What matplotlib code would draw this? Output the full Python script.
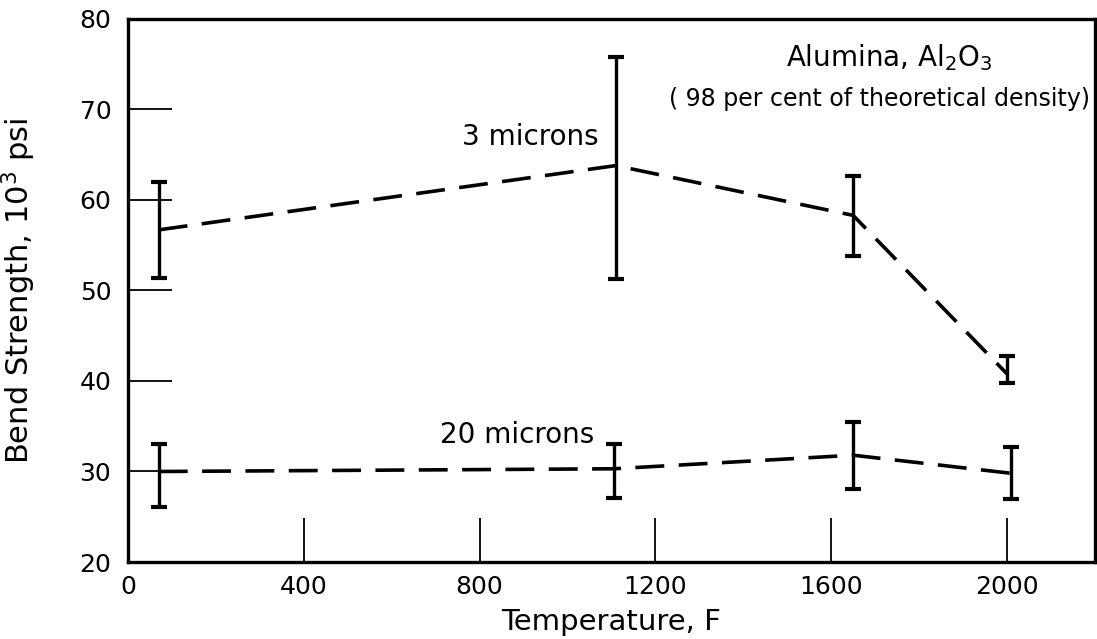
import matplotlib
matplotlib.use("Agg")
import matplotlib.pyplot as plt

# data
temp_3um = [70, 1110, 1650, 2000]
mean_3um = [56.7, 63.8, 58.3, 40.8]
lo_3um = [51.4, 51.3, 53.8, 39.8]
hi_3um = [62.0, 75.8, 62.7, 42.8]

temp_20um = [70, 1105, 1650, 2010]
mean_20um = [30.0, 30.3, 31.8, 29.8]
lo_20um = [26.1, 27.1, 28.1, 27.0]
hi_20um = [33.0, 33.0, 35.5, 32.7]

x_ticks = [0, 400, 800, 1200, 1600, 2000]
y_ticks = [20, 30, 40, 50, 60, 70, 80]

plt.rcParams['font.family'] = ['DejaVu Sans']

fig = plt.figure(figsize=(10.97, 6.39), dpi=100)
ax = fig.add_axes([0.1167, 0.1205, 0.998 - 0.1167, 0.9703 - 0.1205])

for t, m, lo, hi in [(temp_3um, mean_3um, lo_3um, hi_3um),
                     (temp_20um, mean_20um, lo_20um, hi_20um)]:
    ax.plot(t, m, color='black', lw=2.6, dashes=(8, 4), solid_capstyle='butt')
    yerr = [[a - b for a, b in zip(m, lo)], [b - a for a, b in zip(m, hi)]]
    ax.errorbar(t, m, yerr=yerr, fmt='none', ecolor='black', elinewidth=2.4,
                capsize=6, capthick=3)

ax.set_xlim(0, 2200)
ax.set_ylim(20, 80)
ax.set_xticks(x_ticks)
ax.set_yticks(y_ticks)
ax.tick_params(direction='in', length=32, width=1.3, labelsize=18,
               top=False, right=False)
ax.tick_params(axis='x', pad=9)
ax.tick_params(axis='y', pad=12)
for s in ax.spines.values():
    s.set_linewidth(2.4)

ax.set_xlabel('Temperature, F', fontsize=21, va='top')
ax.xaxis.set_label_coords(0.5, -0.085)
ax.set_ylabel('Bend Strength, 10$^3$ psi', fontsize=22)
ax.yaxis.set_label_coords(-0.093, 0.5)

ax.text(1498, 75.7, 'Alumina, Al$_2$O$_3$', fontsize=20, ha='left', va='center')
ax.text(2188, 71.2, '( 98 per cent of theoretical density)', fontsize=17,
        ha='right', va='center')
ax.text(915, 67.0, '3 microns', fontsize=20, ha='center', va='center')
ax.text(885, 34.0, '20 microns', fontsize=20, ha='center', va='center')

fig.savefig('out.png', dpi=100)
